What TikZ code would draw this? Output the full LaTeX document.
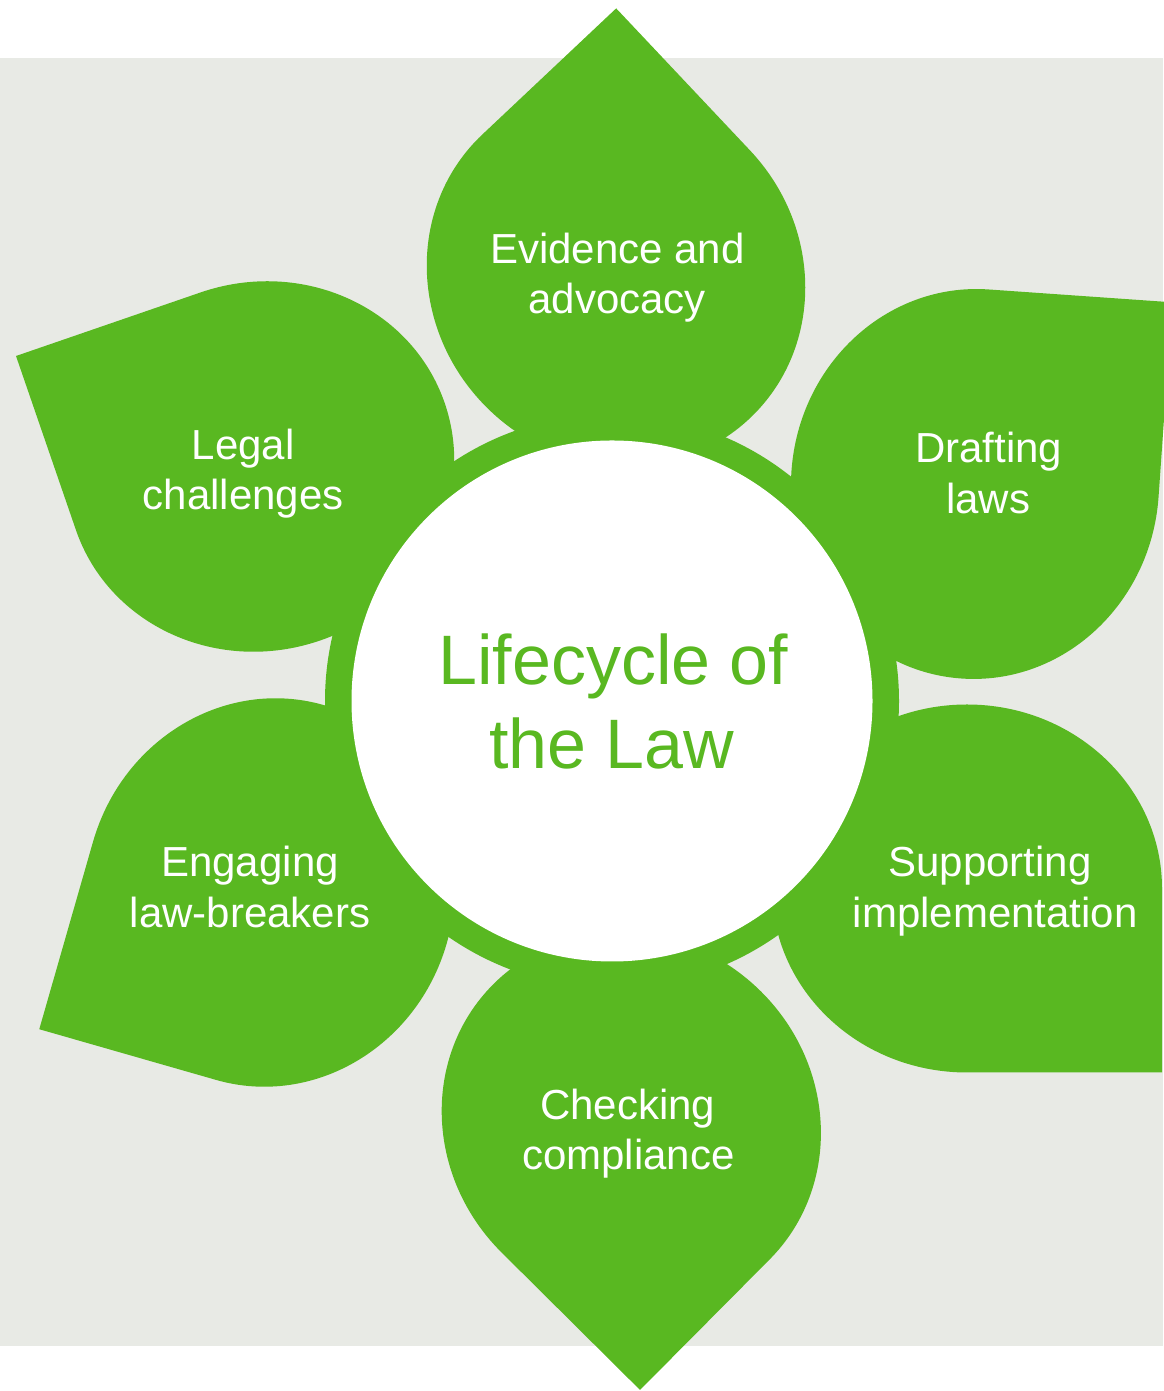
\documentclass[tikz,border=0pt]{standalone}
\usepackage{fontspec}
\setmainfont{Liberation Sans}
\definecolor{leafgreen}{RGB}{89,184,33}
\definecolor{bggray}{RGB}{232,234,229}
\newcommand\leafpetal[3]{%
  \begin{scope}[shift={(#1,{1391-#2})}, rotate=#3]
    \fill[leafgreen] (184,195) -- (0,195) arc[start angle=90, end angle=360, x radius=184, y radius=195] -- cycle;
  \end{scope}}
\begin{document}
\begin{tikzpicture}[x=1pt,y=1pt,
  petaltext/.style={anchor=base, inner sep=0pt, text=white, font=\fontsize{42}{50}\selectfont},
  hubtext/.style={anchor=base, inner sep=0pt, text=leafgreen, font=\fontsize{70}{84}\selectfont}]
\useasboundingbox (0,0) rectangle (1163,1391);
\fill[white] (0,0) rectangle (1163,1391);
\fill[bggray] (0,{1391-1346.5}) rectangle (1163,{1391-58.3});
% petals
\leafpetal{616}{276.5}{43.3}
\leafpetal{975}{484}{-4}
\leafpetal{967}{888.5}{-90}
\leafpetal{631.3}{1122}{-134.8}
\leafpetal{269.9}{892.5}{164}
\leafpetal{260.3}{466.5}{109}
% hub
\fill[leafgreen] (612,690) circle[radius=287];
\fill[white] (612,690) circle[radius=260.5];
% texts
\node[hubtext] (hub1) at (613.3,706) {Lifecycle of};
\node[hubtext] (hub2) at (611.7,622.7) {the Law};
\node[petaltext] (ev1) at (617.5,1127) {Evidence and};
\node[petaltext] (ev2) at (617.2,1077.7) {advocacy};
\node[petaltext] (dr1) at (988.8,928.3) {Drafting};
\node[petaltext] (dr2) at (988.3,877) {laws};
\node[petaltext] (su1) at (990,514.3) {Supporting};
\node[petaltext] (su2) at (995.3,463.7) {implementation};
\node[petaltext] (ch1) at (627.7,271) {Checking};
\node[petaltext] (ch2) at (628.3,221) {compliance};
\node[petaltext] (en1) at (250,514.3) {Engaging};
\node[petaltext] (en2) at (250,463.7) {law-breakers};
\node[petaltext] (le1) at (243.3,931.7) {Legal};
\node[petaltext] (le2) at (243.3,881) {challenges};
\end{tikzpicture}
\end{document}
